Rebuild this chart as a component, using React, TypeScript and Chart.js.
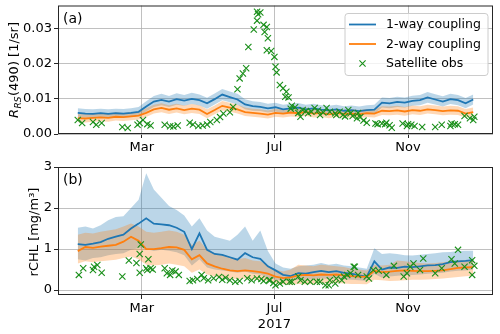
import React, { useEffect, useRef } from 'react';
import { Chart, registerables } from 'chart.js';

Chart.register(...registerables);

// ---------------- data ----------------
const modelDays = [0, 7, 14, 21, 28, 35, 42, 49, 56, 63, 70, 77, 84, 91, 98, 105, 112, 119, 126, 133, 140, 147, 154, 161, 168, 175, 182, 189, 196, 203, 210, 217, 224, 231, 238, 245, 252, 259, 266, 273, 280, 287, 294, 301, 308, 315, 322, 329, 336, 343, 350, 357, 364];

// panel (a): Rrs(490)
const rrsOneWay = [0.0060, 0.0058, 0.0057, 0.0059, 0.0057, 0.0059, 0.0058, 0.0060, 0.0063, 0.0078, 0.0092, 0.0097, 0.0092, 0.0099, 0.0095, 0.0100, 0.0096, 0.0087, 0.0099, 0.0112, 0.0105, 0.0098, 0.0084, 0.0079, 0.0077, 0.0073, 0.0076, 0.0070, 0.0073, 0.0075, 0.0070, 0.0073, 0.0069, 0.0067, 0.0070, 0.0066, 0.0068, 0.0065, 0.0068, 0.0069, 0.0089, 0.0087, 0.0091, 0.0089, 0.0094, 0.0096, 0.0104, 0.0098, 0.0092, 0.0099, 0.0096, 0.0087, 0.0098];
const rrsOneWayHi = [0.0073, 0.0071, 0.0070, 0.0072, 0.0070, 0.0072, 0.0071, 0.0073, 0.0077, 0.0093, 0.0108, 0.0114, 0.0108, 0.0116, 0.0111, 0.0117, 0.0112, 0.0103, 0.0115, 0.0128, 0.0121, 0.0114, 0.0099, 0.0093, 0.0091, 0.0086, 0.0089, 0.0083, 0.0086, 0.0088, 0.0083, 0.0086, 0.0082, 0.0080, 0.0083, 0.0079, 0.0081, 0.0078, 0.0082, 0.0083, 0.0104, 0.0102, 0.0106, 0.0104, 0.0109, 0.0111, 0.0119, 0.0113, 0.0107, 0.0114, 0.0111, 0.0102, 0.0112];
const rrsOneWayLo = [0.0048, 0.0047, 0.0046, 0.0048, 0.0046, 0.0047, 0.0047, 0.0048, 0.0051, 0.0064, 0.0077, 0.0082, 0.0077, 0.0083, 0.0080, 0.0085, 0.0081, 0.0072, 0.0084, 0.0096, 0.0090, 0.0083, 0.0070, 0.0066, 0.0065, 0.0061, 0.0064, 0.0058, 0.0061, 0.0063, 0.0058, 0.0061, 0.0057, 0.0055, 0.0058, 0.0054, 0.0056, 0.0053, 0.0056, 0.0057, 0.0075, 0.0073, 0.0077, 0.0075, 0.0080, 0.0082, 0.0089, 0.0084, 0.0078, 0.0085, 0.0082, 0.0073, 0.0084];
const rrsTwoWay = [0.0045, 0.0044, 0.0046, 0.0047, 0.0046, 0.0049, 0.0048, 0.0050, 0.0052, 0.0060, 0.0070, 0.0074, 0.0069, 0.0073, 0.0068, 0.0072, 0.0069, 0.0057, 0.0068, 0.0080, 0.0075, 0.0070, 0.0062, 0.0060, 0.0058, 0.0055, 0.0060, 0.0058, 0.0061, 0.0059, 0.0063, 0.0058, 0.0060, 0.0056, 0.0059, 0.0057, 0.0058, 0.0056, 0.0059, 0.0058, 0.0066, 0.0065, 0.0067, 0.0064, 0.0068, 0.0066, 0.0070, 0.0068, 0.0065, 0.0067, 0.0066, 0.0058, 0.0062];
const rrsTwoWayHi = [0.0057, 0.0056, 0.0058, 0.0059, 0.0058, 0.0061, 0.0060, 0.0062, 0.0064, 0.0073, 0.0083, 0.0087, 0.0082, 0.0086, 0.0081, 0.0085, 0.0082, 0.0070, 0.0081, 0.0094, 0.0089, 0.0083, 0.0075, 0.0072, 0.0070, 0.0067, 0.0072, 0.0070, 0.0073, 0.0071, 0.0075, 0.0070, 0.0072, 0.0068, 0.0071, 0.0069, 0.0070, 0.0068, 0.0071, 0.0070, 0.0079, 0.0078, 0.0080, 0.0077, 0.0081, 0.0079, 0.0083, 0.0081, 0.0078, 0.0080, 0.0079, 0.0071, 0.0075];
const rrsTwoWayLo = [0.0034, 0.0033, 0.0035, 0.0036, 0.0035, 0.0038, 0.0037, 0.0039, 0.0041, 0.0048, 0.0058, 0.0062, 0.0057, 0.0061, 0.0056, 0.0060, 0.0057, 0.0045, 0.0056, 0.0067, 0.0063, 0.0058, 0.0051, 0.0049, 0.0047, 0.0044, 0.0049, 0.0047, 0.0050, 0.0048, 0.0052, 0.0047, 0.0049, 0.0045, 0.0048, 0.0046, 0.0047, 0.0045, 0.0048, 0.0047, 0.0054, 0.0053, 0.0055, 0.0052, 0.0056, 0.0054, 0.0058, 0.0056, 0.0053, 0.0055, 0.0054, 0.0047, 0.0051];

const satDaysA = [0, 4, 14, 17, 22, 41, 46, 55, 57, 60, 64, 67, 80, 85, 88, 92, 103, 106, 111, 115, 119, 122, 128, 131, 134, 140, 143, 147, 149, 152, 155, 157, 162, 165, 166, 168, 165, 171, 172, 174, 175, 174, 178, 181, 182, 183, 186, 189, 192, 191, 194, 196, 197, 200, 203, 205, 207, 210, 212, 215, 218, 221, 223, 226, 229, 232, 237, 238, 241, 244, 246, 249, 251, 253, 257, 258, 260, 263, 266, 274, 276, 280, 283, 284, 287, 289, 299, 303, 304, 307, 310, 317, 329, 335, 343, 344, 347, 350, 356, 361, 364, 365];
const satRrs = [0.0040, 0.0031, 0.0034, 0.0026, 0.0031, 0.0020, 0.0017, 0.0026, 0.0031, 0.0040, 0.0028, 0.0024, 0.0026, 0.0022, 0.0021, 0.0024, 0.0032, 0.0027, 0.0023, 0.0024, 0.0027, 0.0034, 0.0040, 0.0048, 0.0058, 0.0062, 0.0077, 0.0127, 0.0158, 0.0172, 0.0187, 0.0247, 0.0297, 0.0347, 0.0340, 0.0345, 0.0322, 0.0310, 0.0290, 0.0304, 0.0272, 0.0238, 0.0236, 0.0219, 0.0191, 0.0175, 0.0139, 0.0130, 0.0120, 0.0106, 0.0104, 0.0072, 0.0080, 0.0076, 0.0060, 0.0049, 0.0068, 0.0065, 0.0059, 0.0063, 0.0074, 0.0067, 0.0054, 0.0061, 0.0074, 0.0063, 0.0059, 0.0054, 0.0063, 0.0054, 0.0050, 0.0068, 0.0059, 0.0051, 0.0045, 0.0060, 0.0048, 0.0038, 0.0032, 0.0030, 0.0028, 0.0030, 0.0028, 0.0032, 0.0025, 0.0018, 0.0030, 0.0023, 0.0028, 0.0026, 0.0023, 0.0020, 0.0020, 0.0026, 0.0023, 0.0030, 0.0028, 0.0026, 0.0051, 0.0045, 0.0040, 0.0049];

// panel (b): rCHL
const chlOneWay = [1.12, 1.10, 1.13, 1.17, 1.25, 1.30, 1.35, 1.50, 1.62, 1.75, 1.62, 1.60, 1.58, 1.52, 1.42, 1.00, 1.38, 0.98, 0.88, 0.86, 0.80, 0.74, 0.90, 0.80, 0.76, 0.58, 0.48, 0.37, 0.34, 0.41, 0.40, 0.44, 0.47, 0.44, 0.46, 0.42, 0.40, 0.36, 0.33, 0.70, 0.50, 0.55, 0.54, 0.57, 0.56, 0.58, 0.60, 0.61, 0.63, 0.68, 0.70, 0.71, 0.73];
const chlOneWayHi = [1.52, 1.55, 1.50, 1.58, 1.70, 1.78, 1.80, 2.00, 2.20, 2.85, 2.45, 2.25, 2.05, 1.95, 1.82, 1.55, 1.75, 1.45, 1.30, 1.25, 1.20, 1.35, 1.55, 1.20, 1.45, 0.95, 0.65, 0.55, 0.52, 0.58, 0.60, 0.62, 0.66, 0.62, 0.64, 0.60, 0.58, 0.55, 0.52, 1.02, 0.88, 0.90, 0.88, 0.85, 0.84, 0.86, 0.88, 0.90, 0.92, 0.93, 0.95, 0.96, 0.96];
const chlOneWayLo = [0.75, 0.72, 0.78, 0.80, 0.85, 0.88, 0.90, 0.98, 1.02, 1.00, 0.95, 0.98, 0.96, 0.92, 0.85, 0.60, 0.75, 0.55, 0.50, 0.48, 0.45, 0.42, 0.45, 0.40, 0.38, 0.30, 0.25, 0.22, 0.22, 0.25, 0.25, 0.27, 0.28, 0.27, 0.28, 0.26, 0.25, 0.24, 0.22, 0.40, 0.30, 0.33, 0.35, 0.36, 0.37, 0.38, 0.40, 0.41, 0.42, 0.45, 0.47, 0.48, 0.50];
const chlTwoWay = [0.95, 1.05, 1.03, 1.06, 1.08, 1.10, 1.18, 1.30, 1.20, 1.00, 1.00, 1.02, 1.05, 1.04, 0.98, 0.75, 0.85, 0.65, 0.58, 0.52, 0.48, 0.46, 0.48, 0.46, 0.44, 0.40, 0.33, 0.29, 0.31, 0.36, 0.37, 0.36, 0.38, 0.37, 0.38, 0.36, 0.34, 0.33, 0.32, 0.47, 0.44, 0.45, 0.47, 0.48, 0.47, 0.46, 0.46, 0.47, 0.48, 0.51, 0.54, 0.55, 0.56];
const chlTwoWayHi = [1.35, 1.40, 1.38, 1.42, 1.45, 1.48, 1.55, 1.62, 1.55, 1.42, 1.40, 1.42, 1.45, 1.42, 1.35, 1.10, 1.20, 0.98, 0.90, 0.85, 0.80, 0.75, 0.78, 0.72, 0.70, 0.60, 0.50, 0.45, 0.50, 0.62, 0.60, 0.58, 0.62, 0.60, 0.58, 0.56, 0.52, 0.50, 0.48, 0.62, 0.60, 0.62, 0.72, 0.70, 0.68, 0.66, 0.65, 0.66, 0.68, 0.70, 0.72, 0.73, 0.74];
const chlTwoWayLo = [0.65, 0.70, 0.68, 0.70, 0.72, 0.74, 0.78, 0.82, 0.75, 0.62, 0.60, 0.62, 0.65, 0.62, 0.58, 0.42, 0.50, 0.38, 0.33, 0.30, 0.28, 0.27, 0.28, 0.26, 0.25, 0.22, 0.17, 0.14, 0.13, 0.15, 0.14, 0.15, 0.17, 0.16, 0.17, 0.16, 0.15, 0.15, 0.14, 0.25, 0.24, 0.22, 0.23, 0.24, 0.25, 0.25, 0.26, 0.27, 0.28, 0.30, 0.32, 0.34, 0.35];

const satDaysB = [1, 5, 14, 15, 18, 22, 41, 47, 54, 57, 57, 58, 63, 64, 65, 67, 69, 80, 82, 85, 87, 90, 93, 103, 106, 110, 114, 116, 120, 125, 130, 133, 136, 140, 145, 149, 156, 160, 165, 169, 171, 176, 177, 180, 182, 186, 189, 195, 197, 203, 205, 209, 214, 220, 223, 228, 231, 232, 237, 238, 243, 245, 248, 251, 254, 255, 258, 266, 268, 272, 277, 284, 291, 300, 303, 306, 309, 315, 318, 329, 335, 344, 347, 350, 356, 363, 363, 365];
const satChl = [0.37, 0.53, 0.49, 0.57, 0.61, 0.42, 0.33, 0.72, 0.66, 0.88, 0.42, 1.11, 0.53, 0.49, 0.75, 0.53, 0.50, 0.53, 0.41, 0.37, 0.48, 0.45, 0.37, 0.22, 0.24, 0.27, 0.37, 0.29, 0.24, 0.29, 0.32, 0.25, 0.30, 0.24, 0.20, 0.22, 0.29, 0.24, 0.28, 0.27, 0.22, 0.24, 0.24, 0.17, 0.12, 0.16, 0.20, 0.20, 0.20, 0.33, 0.24, 0.20, 0.20, 0.20, 0.20, 0.12, 0.12, 0.24, 0.16, 0.28, 0.24, 0.33, 0.37, 0.41, 0.57, 0.57, 0.37, 0.33, 0.28, 0.49, 0.47, 0.37, 0.59, 0.33, 0.41, 0.57, 0.65, 0.49, 0.77, 0.41, 0.53, 0.75, 0.65, 0.98, 0.57, 0.37, 0.73, 0.59];

// axes
const xMin = -18.2;
const xMax = 382.2;
const monthTickDays = [59, 181, 304];
const monthTickLabels = ['Mar', 'Jul', 'Nov'];
const yearLabel = '2017';
const rrsTicks = [0, 0.01, 0.02, 0.03];
const rrsRange = [0, 0.0365];
const chlTicks = [0, 1, 2, 3];
const chlRange = [-0.12, 3.0];
const seriesNames = ['1-way coupling', '2-way coupling', 'Satellite obs'];

// ---------------- styling ----------------
const FONT = '"DejaVu Sans", sans-serif';
const BLUE = '#1f77b4';
const ORANGE = '#ff7f0e';
const GREEN = '#1a8f1a';
const BLUE_FILL = 'rgba(31,119,180,0.3)';
const ORANGE_FILL = 'rgba(255,127,14,0.3)';

const pts = (xs: number[], ys: number[]) => xs.map((x, i) => ({ x, y: ys[i] }));

function drawCross(ctx: CanvasRenderingContext2D, x: number, y: number, h: number) {
  ctx.beginPath();
  ctx.moveTo(x - h, y - h);
  ctx.lineTo(x + h, y + h);
  ctx.moveTo(x - h, y + h);
  ctx.lineTo(x + h, y - h);
  ctx.stroke();
}

type Panel = {
  label: string;
  drawTitle: (ctx: CanvasRenderingContext2D, area: any) => void;
  legend: boolean;
};

function decor(panel: Panel) {
  return {
    id: 'decor',
    afterDraw(chart: any) {
      const ctx: CanvasRenderingContext2D = chart.ctx;
      const a = chart.chartArea;
      ctx.save();
      // frame (all four spines)
      ctx.strokeStyle = '#262626';
      ctx.lineWidth = 1;
      ctx.strokeRect(a.left + 0.5, a.top + 0.5, a.right - a.left - 1, a.bottom - a.top - 1);
      // panel label
      ctx.fillStyle = '#000';
      ctx.font = '14px ' + FONT;
      ctx.textBaseline = 'middle';
      ctx.textAlign = 'left';
      ctx.fillText(panel.label, a.left + 5, a.top + 13.5);
      // y title
      panel.drawTitle(ctx, a);
      // legend
      if (panel.legend) {
        const w = 143, h = 62;
        const lx = a.right - 5 - w;
        const ly = a.top + 8;
        ctx.beginPath();
        const r = 3;
        ctx.moveTo(lx + r, ly);
        ctx.lineTo(lx + w - r, ly);
        ctx.arcTo(lx + w, ly, lx + w, ly + r, r);
        ctx.lineTo(lx + w, ly + h - r);
        ctx.arcTo(lx + w, ly + h, lx + w - r, ly + h, r);
        ctx.lineTo(lx + r, ly + h);
        ctx.arcTo(lx, ly + h, lx, ly + h - r, r);
        ctx.lineTo(lx, ly + r);
        ctx.arcTo(lx, ly, lx + r, ly, r);
        ctx.closePath();
        ctx.fillStyle = 'rgba(255,255,255,0.8)';
        ctx.fill();
        ctx.strokeStyle = '#cccccc';
        ctx.lineWidth = 1;
        ctx.stroke();
        const rows = [ly + 11, ly + 30.5, ly + 50];
        const colors = [BLUE, ORANGE, GREEN];
        rows.forEach((ry, i) => {
          ctx.strokeStyle = colors[i];
          if (i < 2) {
            ctx.lineWidth = 1.8;
            ctx.beginPath();
            ctx.moveTo(lx + 4, ry);
            ctx.lineTo(lx + 31, ry);
            ctx.stroke();
          } else {
            ctx.lineWidth = 1.1;
            drawCross(ctx, lx + 17.5, ry, 3.1);
          }
          ctx.fillStyle = '#000';
          ctx.font = '12.5px ' + FONT;
          ctx.textBaseline = 'middle';
          ctx.fillText(seriesNames[i], lx + 41, ry + 0.5);
        });
      }
      ctx.restore();
    },
  };
}

function makeConfig(opts: {
  one: number[]; oneHi: number[]; oneLo: number[];
  two: number[]; twoHi: number[]; twoLo: number[];
  satX: number[]; satY: number[];
  range: number[]; yTicks: number[]; yFmt: (v: number) => string;
  padTop: number; xAxisHeight: number; bottomPanel: boolean; panel: Panel;
}) {
  const tickFont = { family: FONT, size: 13 };
  return {
    type: 'line',
    data: {
      datasets: [
        { data: pts(modelDays, opts.oneHi), fill: '+1', backgroundColor: BLUE_FILL, borderColor: 'transparent', borderWidth: 0, pointRadius: 0, order: 5 },
        { data: pts(modelDays, opts.oneLo), fill: false, borderColor: 'transparent', borderWidth: 0, pointRadius: 0, order: 5 },
        { data: pts(modelDays, opts.twoHi), fill: '+1', backgroundColor: ORANGE_FILL, borderColor: 'transparent', borderWidth: 0, pointRadius: 0, order: 4 },
        { data: pts(modelDays, opts.twoLo), fill: false, borderColor: 'transparent', borderWidth: 0, pointRadius: 0, order: 4 },
        { label: seriesNames[0], data: pts(modelDays, opts.one), borderColor: BLUE, borderWidth: 1.8, pointRadius: 0, fill: false, order: 2 },
        { label: seriesNames[1], data: pts(modelDays, opts.two), borderColor: ORANGE, borderWidth: 1.8, pointRadius: 0, fill: false, order: 1 },
        { label: seriesNames[2], data: pts(opts.satX, opts.satY), showLine: false, pointStyle: 'crossRot', pointRadius: 4.4, pointBorderWidth: 1.1, borderColor: GREEN, pointBorderColor: GREEN, backgroundColor: GREEN, order: 0 },
      ],
    },
    options: {
      animation: false,
      responsive: false,
      maintainAspectRatio: false,
      layout: { padding: { top: opts.padTop, right: 7, left: 0, bottom: 0 } },
      plugins: { legend: { display: false }, tooltip: { enabled: false } },
      scales: {
        x: {
          type: 'linear',
          min: xMin,
          max: xMax,
          border: { display: false },
          grid: { color: '#b0b0b0', lineWidth: 0.8, drawTicks: true, tickLength: 4, tickColor: '#262626', tickWidth: 1 },
          ticks: {
            autoSkip: false,
            maxRotation: 0,
            padding: 2,
            color: '#000',
            font: tickFont,
            callback: (_v: any, i: number) =>
              opts.bottomPanel && monthTickLabels[i] === 'Jul' ? [monthTickLabels[i], yearLabel] : monthTickLabels[i],
          },
          afterBuildTicks: (ax: any) => { ax.ticks = monthTickDays.map((v) => ({ value: v })); },
          afterFit: (ax: any) => { ax.height = opts.xAxisHeight; ax.paddingLeft = 0; ax.paddingRight = 0; },
        },
        y: {
          type: 'linear',
          min: opts.range[0],
          max: opts.range[1],
          border: { display: false },
          grid: { color: '#b0b0b0', lineWidth: 0.8, drawTicks: true, tickLength: 4, tickColor: '#262626', tickWidth: 1 },
          ticks: { padding: 2, color: '#000', font: tickFont, callback: (v: any) => opts.yFmt(Number(v)) },
          afterBuildTicks: (ax: any) => { ax.ticks = opts.yTicks.map((v) => ({ value: v })); },
          afterFit: (ax: any) => { ax.width = 58; ax.paddingTop = 0; ax.paddingBottom = 0; },
        },
      },
    },
    plugins: [decor(opts.panel)],
  };
}

const panelA: Panel = {
  label: '(a)',
  legend: true,
  drawTitle: (ctx) => {
    ctx.save();
    ctx.translate(17.5, 70);
    ctx.rotate(-Math.PI / 2);
    ctx.fillStyle = '#000';
    ctx.textBaseline = 'alphabetic';
    ctx.textAlign = 'left';
    const fMain = '13px ' + FONT;
    const fItal = 'italic 13px ' + FONT;
    const fSub = 'italic 9px ' + FONT;
    ctx.font = fItal; const wR = ctx.measureText('R').width;
    ctx.font = fSub; const wS = ctx.measureText('RS').width;
    ctx.font = fMain; const wM = ctx.measureText('(490) [1/sr]').width;
    let x = -(wR + wS + wM + 1) / 2;
    ctx.font = fItal; ctx.fillText('R', x, 0); x += wR + 0.5;
    ctx.font = fSub; ctx.fillText('RS', x, 3); x += wS + 0.5;
    ctx.font = fMain; ctx.fillText('(490) [1/sr]', x, 0);
    ctx.restore();
  },
};

const panelB: Panel = {
  label: '(b)',
  legend: false,
  drawTitle: (ctx) => {
    ctx.save();
    ctx.translate(37.5, 77);
    ctx.rotate(-Math.PI / 2);
    ctx.fillStyle = '#000';
    ctx.textBaseline = 'alphabetic';
    ctx.textAlign = 'center';
    ctx.font = '13px ' + FONT;
    ctx.fillText('rCHL [mg/m³]', 0, 0);
    ctx.restore();
  },
};

export default function App() {
  const refA = useRef<HTMLCanvasElement>(null);
  const refB = useRef<HTMLCanvasElement>(null);

  useEffect(() => {
    const chartA = new Chart(refA.current as HTMLCanvasElement, makeConfig({
      one: rrsOneWay, oneHi: rrsOneWayHi, oneLo: rrsOneWayLo,
      two: rrsTwoWay, twoHi: rrsTwoWayHi, twoLo: rrsTwoWayLo,
      satX: satDaysA, satY: satRrs,
      range: rrsRange, yTicks: rrsTicks, yFmt: (v) => v.toFixed(2),
      padTop: 5, xAxisHeight: 21, bottomPanel: false, panel: panelA,
    }) as any);
    const chartB = new Chart(refB.current as HTMLCanvasElement, makeConfig({
      one: chlOneWay, oneHi: chlOneWayHi, oneLo: chlOneWayLo,
      two: chlTwoWay, twoHi: chlTwoWayHi, twoLo: chlTwoWayLo,
      satX: satDaysB, satY: satChl,
      range: chlRange, yTicks: chlTicks, yFmt: (v) => String(Math.round(v)),
      padTop: 12, xAxisHeight: 39, bottomPanel: true, panel: panelB,
    }) as any);
    return () => {
      chartA.destroy();
      chartB.destroy();
    };
  }, []);

  return (
    <div style={{ position: 'absolute', left: 0, top: 0, width: 500, height: 334, background: '#fff' }}>
      <canvas ref={refA} width={500} height={155} style={{ display: 'block', width: 500, height: 155 }} />
      <canvas ref={refB} width={500} height={179} style={{ display: 'block', width: 500, height: 179 }} />
    </div>
  );
}
